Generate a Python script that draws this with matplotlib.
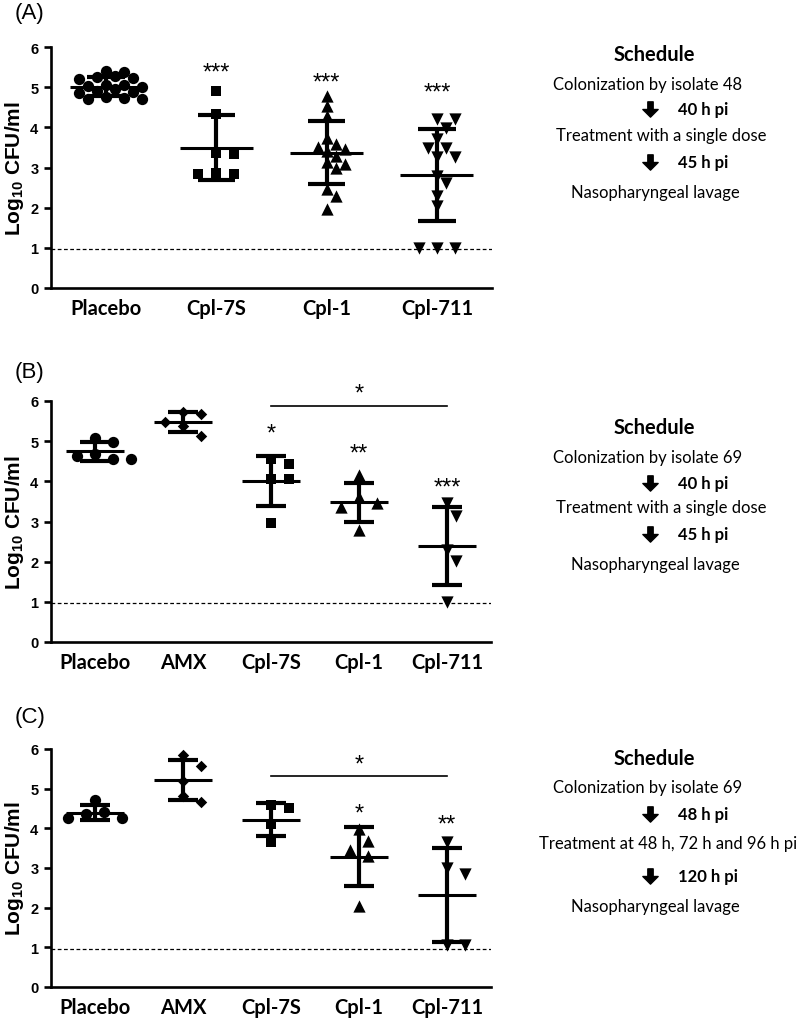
import numpy as np
import matplotlib.pyplot as plt
from matplotlib.path import Path

plt.rcParams['mathtext.fontset'] = 'custom'
plt.rcParams['mathtext.bf'] = 'Liberation Sans:bold'
plt.rcParams['mathtext.rm'] = 'Liberation Sans'

# --- data (log10 CFU/ml) ---

groups_a = ['Placebo', 'Cpl-7S', 'Cpl-1', 'Cpl-711']
placebo_a = [5.37, 5.40, 5.28, 5.25, 5.22, 5.20, 5.05, 5.05, 5.03, 5.00,
             4.95, 4.90, 4.87, 4.85, 4.75, 4.72, 4.70, 4.70]
cpl7s_a = [4.90, 4.33, 3.37, 3.33, 2.87, 2.85, 2.83]
cpl1_a = [4.78, 4.53, 4.27, 3.74, 3.58, 3.45, 3.51, 3.41, 3.28, 3.13,
          2.99, 3.09, 2.47, 2.28, 1.97]
cpl711_a = [4.20, 4.20, 3.99, 3.70, 3.49, 3.49, 3.27, 3.27, 2.78, 2.62,
            2.30, 2.03, 0.99, 0.99, 0.99]
sig_a = ['', '***', '***', '***']
sig_y_a = [0, 5.37, 5.12, 4.87]

groups_bc = ['Placebo', 'AMX', 'Cpl-7S', 'Cpl-1', 'Cpl-711']
placebo_b = [5.08, 4.97, 4.68, 4.63, 4.55, 4.55]
amx_b = [5.73, 5.68, 5.48, 5.37, 5.13]
cpl7s_b = [4.55, 4.43, 4.07, 4.07, 2.97]
cpl1_b = [4.15, 3.47, 3.62, 3.37, 2.80]
cpl711_b = [3.47, 3.13, 2.30, 2.01, 1.00]
sig_b = ['', '', '*', '**', '***']
sig_y_b = [0, 0, 5.2, 4.68, 3.85]
bracket_b = (2, 4, 5.88, '*')

placebo_c = [4.72, 4.40, 4.35, 4.27, 4.25]
amx_c = [5.84, 5.58, 5.20, 4.66, 4.81]
cpl7s_c = [4.58, 4.52, 4.12, 3.66]
cpl1_c = [3.99, 3.67, 3.45, 3.30, 2.03]
cpl711_c = [3.66, 2.99, 2.84, 1.07, 1.07]
sig_c = ['', '', '', '*', '**']
sig_y_c = [0, 0, 0, 4.37, 4.10]
bracket_c = (2, 4, 5.31, '*')

LOD = 0.97

sched_a = ['Colonization by isolate 48', 'Treatment with a single dose', 'Nasopharyngeal lavage']
times_a = ['40 h pi', '45 h pi']
sched_b = ['Colonization by isolate 69', 'Treatment with a single dose', 'Nasopharyngeal lavage']
times_b = ['40 h pi', '45 h pi']
sched_c = ['Colonization by isolate 69', 'Treatment at 48 h, 72 h and 96 h pi', 'Nasopharyngeal lavage']
times_c = ['48 h pi', '120 h pi']

markers_a = ['o', 's', '^', 'v']
markers_bc = ['o', 'D', 's', '^', 'v']
msize = {'o': 66, 's': 58, '^': 78, 'v': 78, 'D': 34}

LABEL_FONT = 'Lato'
AX_FONT = 'Liberation Sans'


def swarm(vals, ppu_x, ppu_y, step=9.0):
    # simple beeswarm offsets in pixel space, returned in data units
    vals = np.asarray(vals, dtype=float)
    dmin = 14.0 if len(vals) <= 7 else 9.5
    offs = np.zeros(len(vals))
    placed = []
    for i in np.argsort(-vals):
        y = vals[i] * ppu_y
        cands = [0.0]
        for k in range(1, 8):
            cands += [k * step, -k * step]
        for c in cands:
            if all((c - px) ** 2 + (y - py) ** 2 >= dmin ** 2 for px, py in placed):
                break
        offs[i] = c / ppu_x
        placed.append((c, y))
    return offs


def draw_panel(ax, groups, series, markers, sigs, sig_y, bracket=None):
    n = len(groups)
    ax.set_xlim(-0.5, n - 0.5)
    ax.set_ylim(0, 6)
    ppu_x = ax.get_position().width * 800 / n
    ppu_y = ax.get_position().height * 1020 / 6

    ax.axhline(LOD, color='black', lw=0.9, ls=(0, (3, 2)), zorder=1)

    for i, (vals, m) in enumerate(zip(series, markers)):
        offs = swarm(vals, ppu_x, ppu_y)
        ax.scatter(i + offs, vals, marker=m, s=msize[m], c='black',
                   linewidths=0, zorder=3, clip_on=False)
        mean = np.mean(vals)
        sd = np.std(vals, ddof=1)
        ax.hlines(mean, i - 0.33, i + 0.33, color='black', lw=2.2, zorder=4)
        ax.vlines(i, mean - sd, mean + sd, color='black', lw=3, zorder=4)
        ax.hlines([mean - sd, mean + sd], i - 0.17, i + 0.17, color='black',
                  lw=3, zorder=4)
        if sigs[i]:
            ax.text(i, sig_y[i], sigs[i], ha='center', va='center',
                    fontsize=17, family=AX_FONT, clip_on=False)

    if bracket:
        x0, x1, yb, lab = bracket
        ax.plot([x0, x1], [yb, yb], color='black', lw=1.2, clip_on=False)
        ax.text((x0 + x1) / 2, yb + 0.3, lab, ha='center', va='center',
                fontsize=17, family=AX_FONT, clip_on=False)

    ax.spines['top'].set_visible(False)
    ax.spines['right'].set_visible(False)
    ax.spines['left'].set_linewidth(1.9)
    ax.spines['bottom'].set_linewidth(1.9)
    ax.set_xticks(range(n))
    ax.set_xticklabels(groups, fontsize=14.5, fontweight='bold', family=LABEL_FONT)
    ax.tick_params(axis='x', length=0, pad=7)
    ax.set_yticks(range(7))
    ax.set_yticklabels([str(v) for v in range(7)], fontsize=10.5,
                       fontweight='bold', family=AX_FONT)
    ax.tick_params(axis='y', length=5, width=1.9, pad=4)
    ax.set_ylabel(r'Log$_{\mathbf{10}}$ CFU/ml', fontsize=15,
                  fontweight='bold', family=AX_FONT, labelpad=3)


fig = plt.figure(figsize=(8, 10.2), dpi=100)

ax_a = fig.add_axes([51 / 800, 1 - 289 / 1020, 441 / 800, 241 / 1020])
ax_b = fig.add_axes([51 / 800, 1 - 643 / 1020, 440 / 800, 241 / 1020])
ax_c = fig.add_axes([51 / 800, 1 - 988 / 1020, 440 / 800, 238 / 1020])

draw_panel(ax_a, groups_a, [placebo_a, cpl7s_a, cpl1_a, cpl711_a],
           markers_a, sig_a, sig_y_a)
draw_panel(ax_b, groups_bc, [placebo_b, amx_b, cpl7s_b, cpl1_b, cpl711_b],
           markers_bc, sig_b, sig_y_b, bracket_b)
draw_panel(ax_c, groups_bc, [placebo_c, amx_c, cpl7s_c, cpl1_c, cpl711_c],
           markers_bc, sig_c, sig_y_c, bracket_c)

# overlay in pixel coords for panel letters and schedules
ov = fig.add_axes([0, 0, 1, 1], zorder=-1)
ov.set_xlim(0, 800)
ov.set_ylim(1020, 0)
ov.axis('off')

for lab, y in zip(['(A)', '(B)', '(C)'], [14, 373, 718]):
    ov.text(15, y, lab, fontsize=16, family=AX_FONT, va='center', ha='left')

# down arrow marker
arrow = Path([(-0.35, 1), (0.35, 1), (0.35, 0), (1, 0), (0, -1), (-1, 0),
              (-0.35, 0), (-0.35, 1)], closed=True)

layouts = [
    (sched_a, times_a, [55, 85, 110, 136, 163, 193], 661),
    (sched_b, times_b, [428, 458, 484, 508, 535, 565], 661),
    (sched_c, times_c, [759, 788, 815, 844, 877, 907], 668),
]
for lines, times, ys, xt in layouts:
    ov.text(654, ys[0], 'Schedule', fontsize=14.5, fontweight='bold',
            family=LABEL_FONT, ha='center', va='center')
    for txt, y, xc in zip(lines, [ys[1], ys[3], ys[5]], [648, xt, 655]):
        ov.text(xc, y, txt, fontsize=12, family=LABEL_FONT, ha='center', va='center')
    for t, y in zip(times, [ys[2], ys[4]]):
        ov.plot(650, y, marker=arrow, ms=11, color='black')
        ov.text(678, y, t, fontsize=12, fontweight='bold', family=LABEL_FONT,
                ha='left', va='center')

fig.savefig('out.png', dpi=100)
